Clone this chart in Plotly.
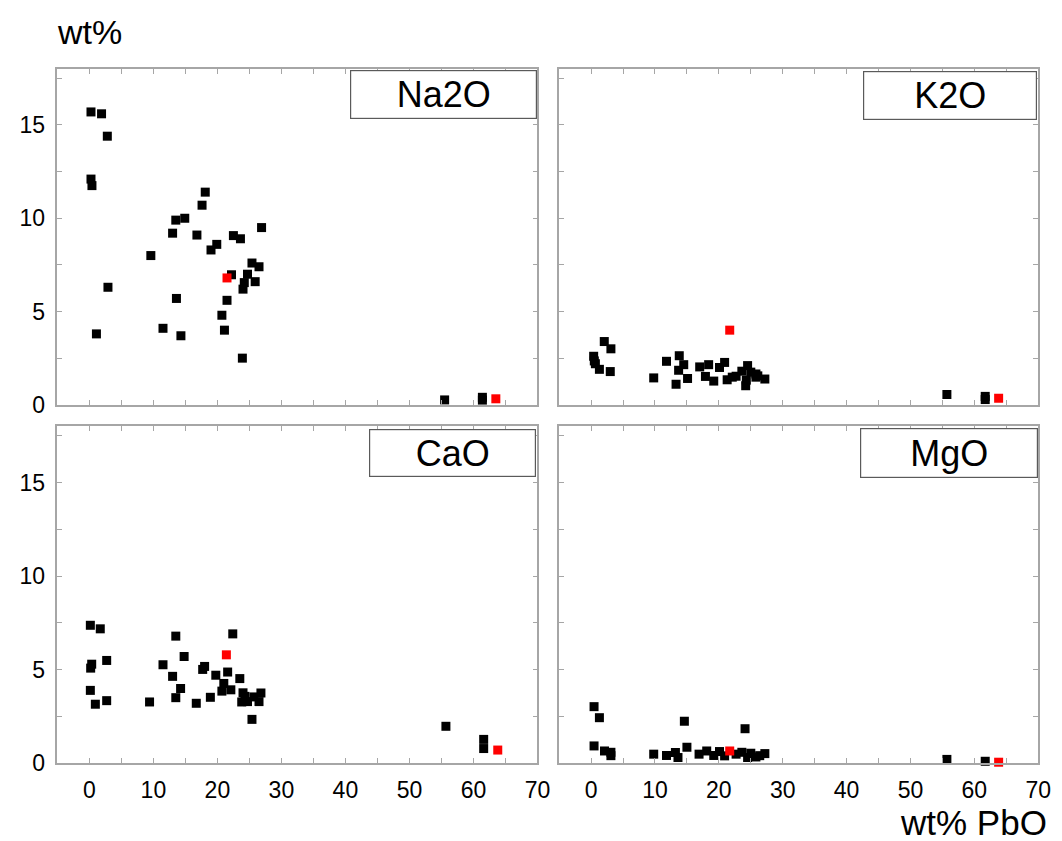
import plotly.graph_objects as go

# ---------------- data (wt% PbO on x, oxide wt% on y) ----------------
na2o_pbo = [0.25, 1.9, 2.8, 0.25, 0.4, 18.1, 17.6, 13.5, 14.9, 13.0, 16.8, 26.9, 22.5, 23.6,
            19.0, 19.9, 9.6, 25.4, 26.5, 22.2, 24.7, 24.2, 25.9, 24.0, 2.9, 13.6, 21.5, 20.7,
            1.1, 11.5, 14.3, 21.1, 23.9, 55.5, 61.4, 61.4]
na2o_val = [15.7, 15.6, 14.4, 12.1, 11.75, 11.4, 10.7, 9.9, 10.0, 9.2, 9.1, 9.5, 9.07, 8.9,
            8.3, 8.6, 8.0, 7.6, 7.4, 6.97, 7.0, 6.55, 6.6, 6.2, 6.3, 5.7, 5.6, 4.8,
            3.8, 4.1, 3.7, 4.0, 2.5, 0.26, 0.4, 0.25]
na2o_red_pbo = [21.5, 63.5]
na2o_red_val = [6.8, 0.32]

k2o_pbo = [2.06, 3.1, 0.4, 0.5, 0.67, 1.3, 3.0, 9.8, 11.8, 13.8, 14.5, 13.7, 15.1, 13.3,
           17.0, 18.4, 17.9, 19.2, 20.1, 20.9, 21.3, 22.1, 22.7, 23.6, 24.5, 24.3, 24.2,
           25.0, 25.8, 25.8, 27.2, 26.1, 55.7, 61.7, 61.7]
k2o_val = [3.39, 3.0, 2.6, 2.35, 2.2, 1.9, 1.78, 1.44, 2.33, 2.63, 2.15, 1.85, 1.41, 1.1,
           2.03, 2.15, 1.52, 1.27, 2.0, 2.27, 1.34, 1.48, 1.53, 1.8, 2.1, 1.32, 1.02,
           1.75, 1.48, 1.65, 1.38, 1.55, 0.55, 0.45, 0.28]
k2o_red_pbo = [21.7, 63.8]
k2o_red_val = [4.0, 0.35]

cao_pbo = [0.15, 1.7, 13.5, 22.4, 2.7, 14.8, 0.36, 0.2, 11.5, 18.0, 17.7, 13.0, 19.75, 21.6,
           23.5, 21.0, 20.7, 22.1, 14.25, 0.15, 13.5, 18.9, 24.0, 25.7, 26.8, 24.3, 23.8,
           24.7, 26.5, 2.7, 0.93, 9.4, 16.7, 25.4, 55.7, 61.6, 61.6]
cao_val = [7.37, 7.18, 6.79, 6.91, 5.49, 5.7, 5.29, 5.08, 5.26, 5.17, 5.01, 4.64, 4.7, 4.87,
           4.52, 4.26, 3.85, 3.92, 3.99, 3.89, 3.5, 3.52, 3.76, 3.54, 3.75, 3.57, 3.27,
           3.29, 3.29, 3.34, 3.15, 3.27, 3.2, 2.34, 1.97, 1.27, 0.78]
cao_red_pbo = [21.4, 63.8]
cao_red_val = [5.79, 0.7]

mgo_pbo = [0.46, 1.3, 14.6, 24.1, 0.46, 2.1, 3.1, 3.1, 9.8, 11.8, 13.2, 13.6, 15.0, 16.9,
           18.1, 19.2, 20.1, 20.9, 22.7, 23.6, 24.5, 25.0, 25.8, 27.2, 26.4, 55.7, 61.7]
mgo_val = [3.02, 2.43, 2.24, 1.84, 0.92, 0.65, 0.58, 0.4, 0.48, 0.41, 0.57, 0.3, 0.85, 0.48,
           0.65, 0.41, 0.62, 0.39, 0.48, 0.58, 0.3, 0.53, 0.33, 0.51, 0.4, 0.2, 0.1]
mgo_red_pbo = [21.7, 63.8]
mgo_red_val = [0.65, 0.05]

panel_names = ["Na2O", "K2O", "CaO", "MgO"]
x_ticks = [0, 5, 10, 15, 20, 25, 30, 35, 40, 45, 50, 55, 60, 65, 70]
y_ticks = [0, 2.5, 5, 7.5, 10, 12.5, 15, 17.5]

# ---------------- figure ----------------
W, H = 1062, 841
fig = go.Figure()

black_sets = [(na2o_pbo, na2o_val), (k2o_pbo, k2o_val), (cao_pbo, cao_val), (mgo_pbo, mgo_val)]
red_sets = [(na2o_red_pbo, na2o_red_val), (k2o_red_pbo, k2o_red_val),
            (cao_red_pbo, cao_red_val), (mgo_red_pbo, mgo_red_val)]

for i in range(4):
    xa = "x" if i == 0 else f"x{i+1}"
    ya = "y" if i == 0 else f"y{i+1}"
    bx, by = black_sets[i]
    rx, ry = red_sets[i]
    fig.add_trace(go.Scatter(x=bx, y=by, mode="markers", xaxis=xa, yaxis=ya,
                             marker=dict(symbol="square", size=9, color="black", line=dict(width=0)),
                             cliponaxis=False, showlegend=False, name=panel_names[i]))
    fig.add_trace(go.Scatter(x=rx, y=ry, mode="markers", xaxis=xa, yaxis=ya,
                             marker=dict(symbol="square", size=9, color="#ff0000", line=dict(width=0)),
                             cliponaxis=False, showlegend=False, name=panel_names[i] + " (red)"))

def px_x(p):
    return p / W

def px_y(p):
    return 1 - p / H

col_dom = [[px_x(50), px_x(536)], [px_x(558), px_x(1043)]]
row_dom = [[px_y(403), px_y(62)], [px_y(767), px_y(425)]]

line_col = "#a6a6a6"
tick_font = dict(family="Liberation Sans, Arial, sans-serif", size=23, color="black")

layout_axes = {}
for i in range(4):
    r, c = divmod(i, 2)
    suffix = "" if i == 0 else str(i + 1)
    show_x_lbl = (r == 1)
    show_y_lbl = (c == 0)
    layout_axes["xaxis" + suffix] = dict(
        domain=col_dom[c], anchor="y" + suffix, range=[-5, 70],
        tickvals=x_ticks,
        ticktext=[(str(v) if (v % 10 == 0 and show_x_lbl) else "") for v in x_ticks],
        ticks="inside", ticklen=5, tickwidth=1, tickcolor=line_col,
        showline=True, linecolor=line_col, linewidth=1.5, mirror="ticks",
        showgrid=False, zeroline=False, tickfont=tick_font, ticklabelstandoff=6,
        fixedrange=True,
    )
    layout_axes["yaxis" + suffix] = dict(
        domain=row_dom[r], anchor="x" + suffix, range=[0, 18],
        tickvals=y_ticks,
        ticktext=[(str(int(v)) if (v % 5 == 0 and show_y_lbl) else "") for v in y_ticks],
        ticks="inside", ticklen=5, tickwidth=1, tickcolor=line_col,
        showline=True, linecolor=line_col, linewidth=1.5, mirror="ticks",
        showgrid=False, zeroline=False, tickfont=tick_font, ticklabelstandoff=6,
        fixedrange=True,
    )

# label boxes: (x0, x1, y0, y1) in pixels
boxes = [(347, 534, 63, 112), (867, 1041, 64, 113), (367, 534, 428, 476), (864, 1042, 427, 477)]
annotations = []
for name, (x0, x1, y0, y1) in zip(panel_names, boxes):
    annotations.append(dict(
        text=name, xref="paper", yref="paper",
        x=px_x((x0 + x1) / 2), y=px_y((y0 + y1) / 2), xanchor="center", yanchor="middle",
        showarrow=False, width=x1 - x0 - 2, height=y1 - y0 - 2, borderpad=0,
        bordercolor="#5a5a5a", borderwidth=1.2, bgcolor="white",
        font=dict(family="Liberation Sans, Arial, sans-serif", size=36, color="black"),
    ))

annotations.append(dict(text="wt%", xref="paper", yref="paper", x=px_x(48), y=px_y(24),
                        xanchor="left", yanchor="middle", showarrow=False,
                        font=dict(family="Liberation Sans, Arial, sans-serif", size=34, color="black")))
annotations.append(dict(text="wt% PbO", xref="paper", yref="paper", x=px_x(1053), y=px_y(827),
                        xanchor="right", yanchor="middle", showarrow=False, borderpad=0,
                        font=dict(family="Liberation Sans, Arial, sans-serif", size=35, color="black")))

fig.update_layout(
    width=W, height=H, margin=dict(l=0, r=0, t=0, b=0),
    paper_bgcolor="white", plot_bgcolor="white",
    annotations=annotations, showlegend=False,
    **layout_axes,
)

fig.write_html("out.html", config={"displayModeBar": False})
